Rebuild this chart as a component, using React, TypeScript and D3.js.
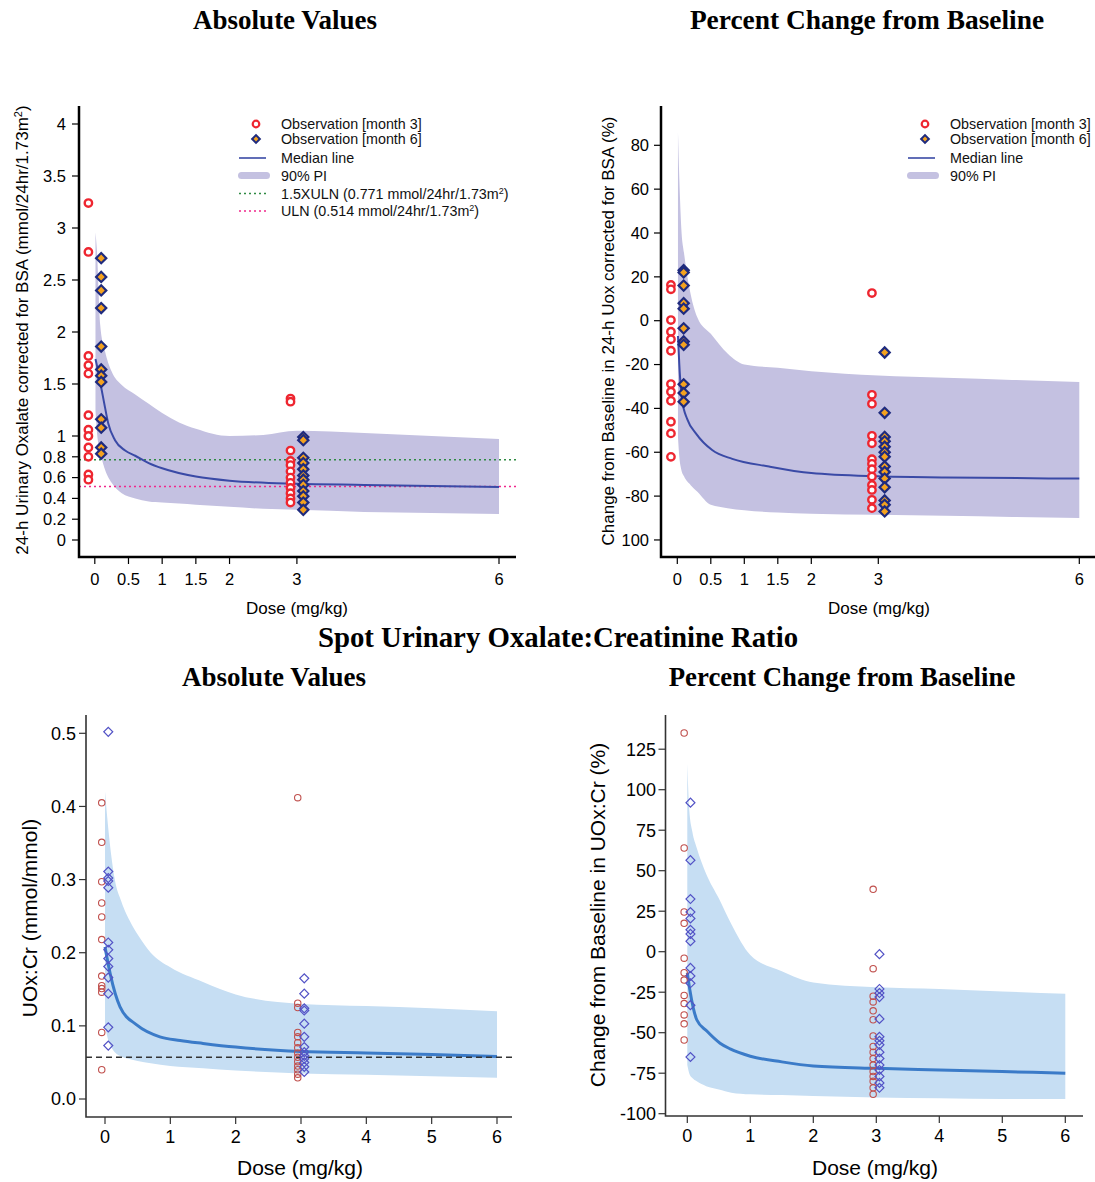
import React from 'react';
import * as d3 from 'd3';

// ---------------- Data ----------------
const obsDoses = [0, 3];

// Top-left: 24-h urinary oxalate corrected for BSA (absolute)
const tlM3AtDose0 = [3.24, 2.77, 1.77, 1.68, 1.6, 1.2, 1.06, 1.0, 0.89, 0.8, 0.63, 0.58];
const tlM6AtDose0 = [2.71, 2.53, 2.4, 2.23, 1.86, 1.64, 1.58, 1.52, 1.16, 1.08, 0.89, 0.83];
const tlM3AtDose3 = [1.36, 1.33, 0.86, 0.76, 0.72, 0.66, 0.6, 0.55, 0.5, 0.45, 0.4, 0.36];
const tlM6AtDose3 = [0.99, 0.96, 0.79, 0.74, 0.68, 0.62, 0.58, 0.53, 0.47, 0.42, 0.36, 0.29];
const tlBandDose = [0.01, 0.03, 0.08, 0.15, 0.25, 0.4, 0.6, 0.8, 1, 1.25, 1.5, 2, 2.5, 3, 4, 5, 6];
const tlBandHi = [2.96, 2.8, 2.07, 1.82, 1.62, 1.49, 1.4, 1.31, 1.22, 1.13, 1.07, 1.0, 1.01, 1.05, 1.03, 1.0, 0.97];
const tlBandLo = [1.25, 1.05, 0.85, 0.68, 0.55, 0.45, 0.4, 0.37, 0.36, 0.35, 0.34, 0.32, 0.3, 0.29, 0.27, 0.26, 0.25];
const tlMedDose = [0.01, 0.05, 0.1, 0.15, 0.2, 0.3, 0.45, 0.6, 0.8, 1, 1.5, 2, 3, 4, 6];
const tlMed = [1.74, 1.62, 1.45, 1.28, 1.12, 0.96, 0.86, 0.81, 0.74, 0.69, 0.61, 0.57, 0.54, 0.53, 0.51];
const tlRefULN15 = 0.771;
const tlRefULN = 0.514;
const tlXTicks = [0, 0.5, 1, 1.5, 2, 3, 6];
const tlYTicks = [0, 0.2, 0.4, 0.6, 0.8, 1, 1.5, 2, 2.5, 3, 3.5, 4];

// Top-right: percent change, 24-h Uox
const trM3AtDose0 = [16.3, 14.3, 0.3, -5, -8.5, -13.7, -28.9, -32.4, -36.5, -46.1, -51.4, -62.1];
const trM6AtDose0 = [23, 22, 16, 8, 5.5, -3.5, -9.5, -11, -29, -33, -37];
const trM3AtDose3 = [12.6, -33.8, -37.9, -52.5, -55.9, -63.2, -65.3, -67.7, -71.1, -74.9, -77.2, -81.7, -85.5];
const trM6AtDose3 = [-14.5, -42, -53, -55, -57.5, -60, -62, -66.5, -69, -72, -76, -82, -84, -87];
const trBandDose = [0.01, 0.03, 0.06, 0.1, 0.2, 0.3, 0.5, 0.75, 1, 1.5, 2, 3, 4, 5, 6];
const trBandHi = [86, 65, 42, 31, 12, 1.5, -6, -15, -20, -21.5, -23, -25, -26, -27, -28];
const trBandLo = [-53, -62, -68, -71, -75, -78, -84, -85.5, -86.5, -87.5, -88, -88.5, -89, -89.5, -90];
const trMedDose = [0.01, 0.03, 0.07, 0.15, 0.28, 0.52, 0.82, 1.37, 2, 3, 4, 6];
const trMed = [-7, -20, -36, -45, -51.5, -59, -63, -66.5, -69.5, -71, -71.5, -72];
const trXTicks = [0, 0.5, 1, 1.5, 2, 3, 6];
const trYTicks = [-100, -80, -60, -40, -20, 0, 20, 40, 60, 80];

// Bottom-left: spot UOx:Cr absolute
const blM3AtDose0 = [0.405, 0.351, 0.297, 0.268, 0.249, 0.218, 0.168, 0.155, 0.151, 0.146, 0.091, 0.04];
const blM6AtDose0 = [0.502, 0.311, 0.302, 0.298, 0.289, 0.214, 0.204, 0.192, 0.181, 0.166, 0.144, 0.098, 0.073];
const blM3AtDose3 = [0.412, 0.131, 0.125, 0.091, 0.085, 0.077, 0.07, 0.063, 0.057, 0.051, 0.045, 0.04, 0.034, 0.029];
const blM6AtDose3 = [0.165, 0.144, 0.124, 0.121, 0.103, 0.085, 0.071, 0.064, 0.059, 0.055, 0.05, 0.044, 0.037];
const blBandDose = [0, 0.05, 0.1, 0.15, 0.25, 0.4, 0.5, 0.7, 1, 1.5, 2, 3, 4, 5, 6];
const blBandHi = [0.42, 0.37, 0.33, 0.3, 0.27, 0.24, 0.225, 0.2, 0.18, 0.16, 0.143, 0.13, 0.127, 0.124, 0.12];
const blBandLo = [0.1, 0.08, 0.07, 0.064, 0.058, 0.054, 0.052, 0.049, 0.045, 0.042, 0.039, 0.035, 0.033, 0.031, 0.029];
const blMedDose = [0, 0.08, 0.23, 0.49, 0.84, 1.15, 1.5, 2, 3, 4, 5, 6];
const blMed = [0.208, 0.171, 0.126, 0.101, 0.085, 0.08, 0.076, 0.071, 0.065, 0.063, 0.061, 0.058];
const blRef = 0.057;
const blXTicks = [0, 1, 2, 3, 4, 5, 6];
const blYTicks = [0, 0.1, 0.2, 0.3, 0.4, 0.5];

// Bottom-right: spot UOx:Cr percent change
const brM3AtDose0 = [135, 64, 24.5, 17.5, -4, -13, -17.5, -27, -32, -39, -44.5, -54.5];
const brM6AtDose0 = [92, 56.5, 32.5, 24.5, 20.5, 13.5, 11, 6.5, -10, -15, -19.5, -33, -65];
const brM3AtDose3 = [38.5, -10.5, -27.5, -31, -36.5, -42, -52, -58.5, -62, -66, -70, -74, -77, -80, -84, -88];
const brM6AtDose3 = [-1.5, -23, -25.5, -28, -41.5, -52.5, -55, -57.5, -62, -66, -70, -73, -77, -81, -84];
const brBandDose = [0, 0.03, 0.08, 0.15, 0.3, 0.5, 0.7, 1, 1.5, 2, 3, 4, 5, 6];
const brBandHi = [116, 88, 74, 64, 48, 33, 17, -2, -12, -19, -22, -23, -24.5, -26];
const brBandLo = [-70, -75, -78, -80, -83, -85, -87, -88, -88.5, -89, -90, -90.5, -91, -91];
const brMedDose = [0, 0.04, 0.15, 0.31, 0.52, 0.68, 1, 1.5, 2, 3, 4, 5, 6];
const brMed = [-13, -23.5, -42, -49, -56.5, -60, -64.5, -68, -70.5, -72, -73, -74, -75];
const brXTicks = [0, 1, 2, 3, 4, 5, 6];
const brYTicks = [-100, -75, -50, -25, 0, 25, 50, 75, 100, 125];

// ---------------- Styles ----------------
const sans = "'Liberation Sans', Arial, Helvetica, sans-serif";
const serif = "'Liberation Serif', 'Times New Roman', serif";
const topBand = '#c4c1e1';
const topMedColor = '#3a4aa6';
const topRed = '#ee2630';
const topNavy = '#1f2b7e';
const topOrange = '#f4a21f';
const botBand = '#c6def3';
const botMedColor = '#3b7bc8';
const botRed = '#c0504d';
const botBlue = '#5353c6';

type Lin = d3.ScaleLinear<number, number>;

function bandPath(x: Lin, y: Lin, dose: number[], lo: number[], hi: number[]) {
  const pts = dose.map((d, i) => ({ d, lo: lo[i], hi: hi[i] }));
  return d3.area<any>().x((p) => x(p.d)).y0((p) => y(p.lo)).y1((p) => y(p.hi)).curve(d3.curveMonotoneX)(pts) || '';
}
function linePath(x: Lin, y: Lin, dose: number[], v: number[]) {
  const pts = dose.map((d, i) => [d, v[i]] as [number, number]);
  return d3.line<[number, number]>().x((p) => x(p[0])).y((p) => y(p[1])).curve(d3.curveMonotoneX)(pts) || '';
}

const diamondGen = (area: number) => d3.symbol().type(d3.symbolSquare).size(area)() || '';

function Circles({ x, y, dose, vals, r, stroke, sw, fill }: any) {
  return (
    <g>
      {vals.map((v: number, i: number) => (
        <circle key={i} cx={x(dose)} cy={y(v)} r={r} fill={fill} stroke={stroke} strokeWidth={sw} />
      ))}
    </g>
  );
}
function Diamonds({ x, y, dose, vals, area, stroke, sw, fill }: any) {
  const d = diamondGen(area);
  return (
    <g>
      {vals.map((v: number, i: number) => (
        <path key={i} d={d} transform={`translate(${x(dose)},${y(v)}) rotate(45)`} fill={fill} stroke={stroke} strokeWidth={sw} />
      ))}
    </g>
  );
}

function Axes({ x, y, left, right, top, bottom, xTicks, yTicks, xFmt, yFmt, tickLen, fs, sw, color, xLabY, yLabX }: any) {
  return (
    <g fontFamily={sans} fontSize={fs} fill="#000">
      <path d={`M${left},${top} L${left},${bottom} L${right},${bottom}`} fill="none" stroke={color} strokeWidth={sw} />
      {xTicks.map((t: number) => (
        <g key={'x' + t}>
          <line x1={x(t)} x2={x(t)} y1={bottom} y2={bottom + tickLen} stroke={color} strokeWidth={1.2} />
          <text x={x(t)} y={xLabY} textAnchor="middle">{xFmt(t)}</text>
        </g>
      ))}
      {yTicks.map((t: number) => (
        <g key={'y' + t}>
          <line x1={left - tickLen} x2={left} y1={y(t)} y2={y(t)} stroke={color} strokeWidth={1.2} />
          <text x={yLabX} y={y(t)} dy="0.35em" textAnchor="end">{yFmt(t)}</text>
        </g>
      ))}
    </g>
  );
}

export default function App() {
  // scales
  const tlX = d3.scaleLinear().domain([0, 6]).range([94.8, 499]);
  const tlY = d3.scaleLinear().domain([0, 4]).range([540, 124]);
  const trX = d3.scaleLinear().domain([0, 6]).range([677.3, 1079.3]);
  const trY = d3.scaleLinear().domain([0, 80]).range([320.7, 145.3]);
  const blX = d3.scaleLinear().domain([0, 6]).range([105, 497]);
  const blY = d3.scaleLinear().domain([0, 0.5]).range([1099, 733.3]);
  const brX = d3.scaleLinear().domain([0, 6]).range([687.3, 1065.3]);
  const brY = d3.scaleLinear().domain([0, 125]).range([951.7, 749.2]);

  const topJit = 0.095;
  const botJit = 0.05;
  const fmtNum = (v: number) => String(v);
  const trYFmt = (v: number) => (v === -100 ? '100' : String(v));
  const blYFmt = d3.format('.1f');

  const topLegendRows = [124, 139, 158, 175.5, 193.5, 211];

  const topPts = (x: Lin, y: Lin, m3a: number[], m6a: number[], m3b: number[], m6b: number[]) => (
    <g>
      <Circles x={x} y={y} dose={obsDoses[0] - topJit} vals={m3a} r={3.7} stroke={topRed} sw={2.4} fill="#fff" />
      <Circles x={x} y={y} dose={obsDoses[1] - topJit} vals={m3b} r={3.7} stroke={topRed} sw={2.4} fill="#fff" />
      <Diamonds x={x} y={y} dose={obsDoses[0] + topJit} vals={m6a} area={52} stroke={topNavy} sw={2.2} fill={topOrange} />
      <Diamonds x={x} y={y} dose={obsDoses[1] + topJit} vals={m6b} area={52} stroke={topNavy} sw={2.2} fill={topOrange} />
    </g>
  );
  const botPts = (x: Lin, y: Lin, m3a: number[], m6a: number[], m3b: number[], m6b: number[]) => (
    <g>
      <Circles x={x} y={y} dose={obsDoses[0] - botJit} vals={m3a} r={3.2} stroke={botRed} sw={1.1} fill="none" />
      <Circles x={x} y={y} dose={obsDoses[1] - botJit} vals={m3b} r={3.2} stroke={botRed} sw={1.1} fill="none" />
      <Diamonds x={x} y={y} dose={obsDoses[0] + botJit} vals={m6a} area={40} stroke={botBlue} sw={1.2} fill="none" />
      <Diamonds x={x} y={y} dose={obsDoses[1] + botJit} vals={m6b} area={40} stroke={botBlue} sw={1.2} fill="none" />
    </g>
  );

  const legend = (sx: number, tx: number, withRef: boolean) => (
    <g fontFamily={sans} fontSize={14.3} fill="#111">
      <circle cx={sx} cy={topLegendRows[0]} r={3.3} fill="#fff" stroke={topRed} strokeWidth={2.2} />
      <text x={tx} y={topLegendRows[0]} dy="0.35em">Observation [month 3]</text>
      <path d={diamondGen(30)} transform={`translate(${sx},${topLegendRows[1]}) rotate(45)`} fill={topOrange} stroke={topNavy} strokeWidth={2} />
      <text x={tx} y={topLegendRows[1]} dy="0.35em">Observation [month 6]</text>
      <line x1={sx - 17} x2={sx + 10} y1={topLegendRows[2]} y2={topLegendRows[2]} stroke={topMedColor} strokeWidth={1.6} />
      <text x={tx} y={topLegendRows[2]} dy="0.35em">Median line</text>
      <rect x={sx - 18} y={topLegendRows[3] - 3.5} width={32} height={7} rx={3.5} fill={topBand} />
      <text x={tx} y={topLegendRows[3]} dy="0.35em">90% PI</text>
      {withRef && (
        <g>
          <line x1={sx - 17} x2={sx + 10} y1={topLegendRows[4]} y2={topLegendRows[4]} stroke="#2f8a43" strokeWidth={1.4} strokeDasharray="2,3" />
          <text x={tx} y={topLegendRows[4]} dy="0.35em">
            1.5XULN (0.771 mmol/24hr/1.73m<tspan dy={-5} fontSize={9}>2</tspan><tspan dy={5}>)</tspan>
          </text>
          <line x1={sx - 17} x2={sx + 10} y1={topLegendRows[5]} y2={topLegendRows[5]} stroke="#f0288c" strokeWidth={1.4} strokeDasharray="2,3" />
          <text x={tx} y={topLegendRows[5]} dy="0.35em">
            ULN (0.514 mmol/24hr/1.73m<tspan dy={-5} fontSize={9}>2</tspan><tspan dy={5}>)</tspan>
          </text>
        </g>
      )}
    </g>
  );

  return (
    <svg width={1095} height={1182} style={{ position: 'absolute', left: 0, top: 0, background: '#fff' }}>
      <rect x={0} y={0} width={1095} height={1182} fill="#fff" />

      {/* Titles */}
      <g fontFamily={serif} fontWeight="bold" fill="#000" textAnchor="middle">
        <text x={285} y={29} fontSize={27}>Absolute Values</text>
        <text x={867} y={29} fontSize={27.4}>Percent Change from Baseline</text>
        <text x={558} y={647} fontSize={28.8}>Spot Urinary Oxalate:Creatinine Ratio</text>
        <text x={274} y={686} fontSize={27}>Absolute Values</text>
        <text x={842} y={686} fontSize={26.8}>Percent Change from Baseline</text>
      </g>

      {/* ---- Top-left ---- */}
      <path d={bandPath(tlX, tlY, tlBandDose, tlBandLo, tlBandHi)} fill={topBand} />
      <line x1={79} x2={516} y1={tlY(tlRefULN15)} y2={tlY(tlRefULN15)} stroke="#2f8a43" strokeWidth={1.5} strokeDasharray="2,3" />
      <line x1={79} x2={516} y1={tlY(tlRefULN)} y2={tlY(tlRefULN)} stroke="#f0288c" strokeWidth={1.5} strokeDasharray="2,3" />
      <path d={linePath(tlX, tlY, tlMedDose, tlMed)} fill="none" stroke={topMedColor} strokeWidth={2} />
      {topPts(tlX, tlY, tlM3AtDose0, tlM6AtDose0, tlM3AtDose3, tlM6AtDose3)}
      <Axes x={tlX} y={tlY} left={79} right={516} top={106} bottom={557} xTicks={tlXTicks} yTicks={tlYTicks}
        xFmt={fmtNum} yFmt={fmtNum} tickLen={7} fs={16.5} sw={2.5} color="#000" xLabY={585} yLabX={66} />
      <text x={297} y={614} textAnchor="middle" fontFamily={sans} fontSize={17}>Dose (mg/kg)</text>
      <text transform="translate(28,330) rotate(-90)" textAnchor="middle" fontFamily={sans} fontSize={17}>
        24-h Urinary Oxalate corrected for BSA (mmol/24hr/1.73m<tspan dy={-6} fontSize={11}>2</tspan><tspan dy={6}>)</tspan>
      </text>
      {legend(256, 281, true)}

      {/* ---- Top-right ---- */}
      <path d={bandPath(trX, trY, trBandDose, trBandLo, trBandHi)} fill={topBand} />
      <path d={linePath(trX, trY, trMedDose, trMed)} fill="none" stroke={topMedColor} strokeWidth={2} />
      {topPts(trX, trY, trM3AtDose0, trM6AtDose0, trM3AtDose3, trM6AtDose3)}
      <Axes x={trX} y={trY} left={661} right={1097} top={106} bottom={557} xTicks={trXTicks} yTicks={trYTicks}
        xFmt={fmtNum} yFmt={trYFmt} tickLen={7} fs={16.5} sw={2.5} color="#000" xLabY={585} yLabX={649} />
      <text x={879} y={614} textAnchor="middle" fontFamily={sans} fontSize={17}>Dose (mg/kg)</text>
      <text transform="translate(614,331) rotate(-90)" textAnchor="middle" fontFamily={sans} fontSize={17}>
        Change from Baseline in 24-h Uox corrected for BSA (%)
      </text>
      {legend(925, 950, false)}

      {/* ---- Bottom-left ---- */}
      <path d={bandPath(blX, blY, blBandDose, blBandLo, blBandHi)} fill={botBand} />
      <path d={linePath(blX, blY, blMedDose, blMed)} fill="none" stroke={botMedColor} strokeWidth={3} />
      <line x1={86} x2={512} y1={blY(blRef)} y2={blY(blRef)} stroke="#333" strokeWidth={1.5} strokeDasharray="6,4" />
      {botPts(blX, blY, blM3AtDose0, blM6AtDose0, blM3AtDose3, blM6AtDose3)}
      <Axes x={blX} y={blY} left={86} right={512} top={715} bottom={1117} xTicks={blXTicks} yTicks={blYTicks}
        xFmt={fmtNum} yFmt={blYFmt} tickLen={7} fs={18} sw={1.6} color="#333" xLabY={1143} yLabX={76} />
      <text x={300} y={1175} textAnchor="middle" fontFamily={sans} fontSize={21}>Dose (mg/kg)</text>
      <text transform="translate(37,918) rotate(-90)" textAnchor="middle" fontFamily={sans} fontSize={21}>
        UOx:Cr (mmol/mmol)
      </text>

      {/* ---- Bottom-right ---- */}
      <path d={bandPath(brX, brY, brBandDose, brBandLo, brBandHi)} fill={botBand} />
      <path d={linePath(brX, brY, brMedDose, brMed)} fill="none" stroke={botMedColor} strokeWidth={3} />
      {botPts(brX, brY, brM3AtDose0, brM6AtDose0, brM3AtDose3, brM6AtDose3)}
      <Axes x={brX} y={brY} left={665.5} right={1083} top={715} bottom={1116} xTicks={brXTicks} yTicks={brYTicks}
        xFmt={fmtNum} yFmt={fmtNum} tickLen={7} fs={18} sw={1.6} color="#333" xLabY={1142} yLabX={656} />
      <text x={875} y={1175} textAnchor="middle" fontFamily={sans} fontSize={21}>Dose (mg/kg)</text>
      <text transform="translate(605,915) rotate(-90)" textAnchor="middle" fontFamily={sans} fontSize={21}>
        Change from Baseline in UOx:Cr (%)
      </text>
    </svg>
  );
}
